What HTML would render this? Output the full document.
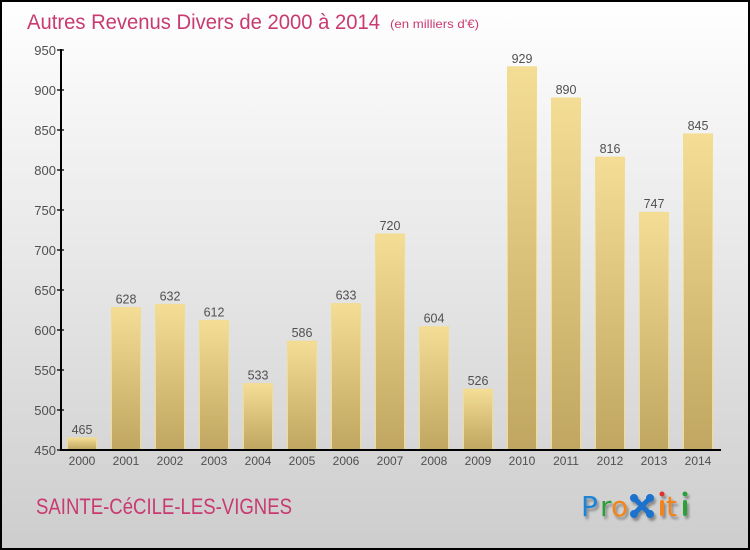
<!DOCTYPE html>
<html><head><meta charset="utf-8"><style>
html,body{margin:0;padding:0;}
body{width:750px;height:550px;overflow:hidden;}
svg{display:block;}
</style></head><body>
<svg width="750" height="550" viewBox="0 0 750 550" xmlns="http://www.w3.org/2000/svg" font-family="'Liberation Sans', 'DejaVu Sans', sans-serif">
<defs>
<linearGradient id="bg" x1="0" y1="0" x2="0" y2="1">
<stop offset="0" stop-color="#ffffff"/>
<stop offset="1" stop-color="#cdcdcd"/>
</linearGradient>
<linearGradient id="bar" x1="0" y1="0" x2="0" y2="1">
<stop offset="0" stop-color="#f4dd94"/>
<stop offset="1" stop-color="#c0a660"/>
</linearGradient>
<filter id="sh" x="-10%" y="-10%" width="130%" height="140%">
<feGaussianBlur in="SourceAlpha" stdDeviation="1.2"/>
<feOffset dx="2" dy="3" result="o"/>
<feComponentTransfer><feFuncA type="linear" slope="0.35"/></feComponentTransfer>
<feMerge><feMergeNode/><feMergeNode in="SourceGraphic"/></feMerge>
</filter>
</defs>
<rect x="0" y="0" width="750" height="550" fill="url(#bg)"/>
<rect x="1" y="1" width="748" height="548" fill="none" stroke="#000" stroke-width="2"/>

<text x="27" y="29" font-size="21" fill="#c83a70" textLength="353" lengthAdjust="spacingAndGlyphs">Autres Revenus Divers de 2000 à 2014</text>
<text x="390" y="28" font-size="12" fill="#c83a70" textLength="89" lengthAdjust="spacingAndGlyphs">(en milliers d'€)</text>

<g fill="url(#bar)" stroke="#f3dc90" stroke-width="1">
<rect x="67.5" y="438" width="29" height="11.5"/>
<rect x="111.5" y="307.6" width="29" height="141.9"/>
<rect x="155.5" y="304.4" width="29" height="145.1"/>
<rect x="199.5" y="320.4" width="29" height="129.1"/>
<rect x="243.5" y="383.6" width="29" height="65.9"/>
<rect x="287.5" y="341.2" width="29" height="108.3"/>
<rect x="331.5" y="303.6" width="29" height="145.9"/>
<rect x="375.5" y="234" width="29" height="215.5"/>
<rect x="419.5" y="326.8" width="29" height="122.7"/>
<rect x="463.5" y="389.2" width="29" height="60.3"/>
<rect x="507.5" y="66.8" width="29" height="382.7"/>
<rect x="551.5" y="98" width="29" height="351.5"/>
<rect x="595.5" y="157.2" width="29" height="292.3"/>
<rect x="639.5" y="212.4" width="29" height="237.1"/>
<rect x="683.5" y="134" width="29" height="315.5"/>
</g>

<g font-size="12.5" fill="#505050" text-anchor="middle">
<text x="82" y="434">465</text>
<text x="126" y="303.5">628</text>
<text x="170" y="300.5">632</text>
<text x="214" y="316.5">612</text>
<text x="258" y="379.5">533</text>
<text x="302" y="337">586</text>
<text x="346" y="299.5">633</text>
<text x="390" y="230">720</text>
<text x="434" y="322.5">604</text>
<text x="478" y="385">526</text>
<text x="522" y="63">929</text>
<text x="566" y="94">890</text>
<text x="610" y="153">816</text>
<text x="654" y="208">747</text>
<text x="698" y="130">845</text>
</g>

<g stroke="#000" stroke-width="2" fill="none">
<line x1="61" y1="49" x2="61" y2="451"/>
<line x1="60" y1="450" x2="721" y2="450"/>
</g>
<g stroke="#000" stroke-width="1.3">
<line x1="57" y1="50" x2="64" y2="50"/>
<line x1="57" y1="90" x2="64" y2="90"/>
<line x1="57" y1="130" x2="64" y2="130"/>
<line x1="57" y1="170" x2="64" y2="170"/>
<line x1="57" y1="210" x2="64" y2="210"/>
<line x1="57" y1="250" x2="64" y2="250"/>
<line x1="57" y1="290" x2="64" y2="290"/>
<line x1="57" y1="330" x2="64" y2="330"/>
<line x1="57" y1="370" x2="64" y2="370"/>
<line x1="57" y1="410" x2="64" y2="410"/>
<line x1="57" y1="450" x2="61" y2="450"/>
</g>

<g font-size="13" fill="#505050" text-anchor="end">
<text x="56" y="55">950</text>
<text x="56" y="95">900</text>
<text x="56" y="135">850</text>
<text x="56" y="175">800</text>
<text x="56" y="215">750</text>
<text x="56" y="255">700</text>
<text x="56" y="295">650</text>
<text x="56" y="335">600</text>
<text x="56" y="375">550</text>
<text x="56" y="415">500</text>
<text x="56" y="455">450</text>
</g>

<g font-size="12" fill="#505050" text-anchor="middle">
<text x="82" y="465">2000</text>
<text x="126" y="465">2001</text>
<text x="170" y="465">2002</text>
<text x="214" y="465">2003</text>
<text x="258" y="465">2004</text>
<text x="302" y="465">2005</text>
<text x="346" y="465">2006</text>
<text x="390" y="465">2007</text>
<text x="434" y="465">2008</text>
<text x="478" y="465">2009</text>
<text x="522" y="465">2010</text>
<text x="566" y="465">2011</text>
<text x="610" y="465">2012</text>
<text x="654" y="465">2013</text>
<text x="698" y="465">2014</text>
</g>

<text x="36" y="514" font-size="22" fill="#c83a70" textLength="256" lengthAdjust="spacingAndGlyphs">SAINTE-CéCILE-LES-VIGNES</text>

<g filter="url(#sh)" font-family="'DejaVu Sans', 'Liberation Sans', sans-serif" font-size="28">
<text x="581" y="516" fill="#1e84d6">P</text>
<text x="600" y="516" fill="#2f9e3c">r</text>
<text x="611" y="516" fill="#f2841a">o</text>
<g fill="#1a72cc" stroke="#1a72cc">
<line x1="634" y1="498" x2="650" y2="514" stroke-width="5" stroke-linecap="round"/>
<line x1="650" y1="498" x2="634" y2="514" stroke-width="5" stroke-linecap="round"/>
<circle cx="634" cy="498" r="3.5"/><circle cx="650" cy="498" r="3.5"/>
<circle cx="634" cy="514" r="3.5"/><circle cx="650" cy="514" r="3.5"/>
</g>
<rect x="660" y="500" width="4" height="16" rx="2" fill="#f2841a"/>
<circle cx="662" cy="494" r="2.5" fill="#e0302a"/>
<text x="666" y="516" fill="#f2841a">t</text>
<rect x="683" y="500" width="4" height="16" rx="2" fill="#2f9e3c"/>
<circle cx="685" cy="494" r="2.5" fill="#2f9e3c"/>
</g>
</svg>
</body></html>
